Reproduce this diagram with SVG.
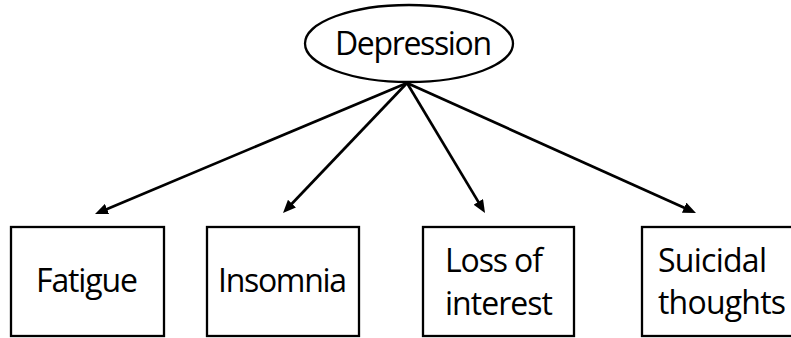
<svg xmlns="http://www.w3.org/2000/svg" width="791" height="338" viewBox="0 0 791 338">
<style>
.box{fill:#fff;stroke:#000;stroke-width:2.3}
.lbl{font-family:"Open Sans","Noto Sans","Liberation Sans",sans-serif;font-size:32px;fill:#000}
.edge{stroke:#000;stroke-width:2.7;fill:none;marker-end:url(#ah)}
</style>
<defs>
<marker id="ah" markerUnits="userSpaceOnUse" markerWidth="13" markerHeight="11" viewBox="0 0 13 11" refX="5" refY="5.5" orient="auto">
<path d="M0,0 L13,5.5 L0,11 z" fill="#000"/>
</marker>
</defs>
<rect width="791" height="338" fill="#fff"/>
<g id="depression">
<ellipse cx="409" cy="43.5" rx="104" ry="38.5" class="box"/>
<text class="lbl" x="335" y="55" textLength="157">Depression</text>
</g>
<g id="fatigue">
<rect class="box" x="11" y="227" width="153" height="109"/>
<text class="lbl" x="36" y="292" textLength="102">Fatigue</text>
</g>
<g id="insomnia">
<rect class="box" x="207" y="227" width="152" height="109"/>
<text class="lbl" x="218" y="292" textLength="129">Insomnia</text>
</g>
<g id="loss-of-interest">
<rect class="box" x="423" y="227" width="151" height="109"/>
<text class="lbl" x="445" y="272" textLength="98">Loss of</text>
<text class="lbl" x="445" y="315" textLength="108">interest</text>
</g>
<g id="suicidal-thoughts">
<rect class="box" x="642" y="227" width="152" height="109"/>
<text class="lbl" x="658" y="272" textLength="109">Suicidal</text>
<text class="lbl" x="658" y="314" textLength="128">thoughts</text>
</g>
<g id="connectors">
<line class="edge" x1="407" y1="83" x2="102.4" y2="210.9"/>
<line class="edge" x1="407" y1="83" x2="288.5" y2="207.2"/>
<line class="edge" x1="407" y1="83" x2="480.9" y2="206.1"/>
<line class="edge" x1="407" y1="83" x2="688.7" y2="209.7"/>
</g>
</svg>
